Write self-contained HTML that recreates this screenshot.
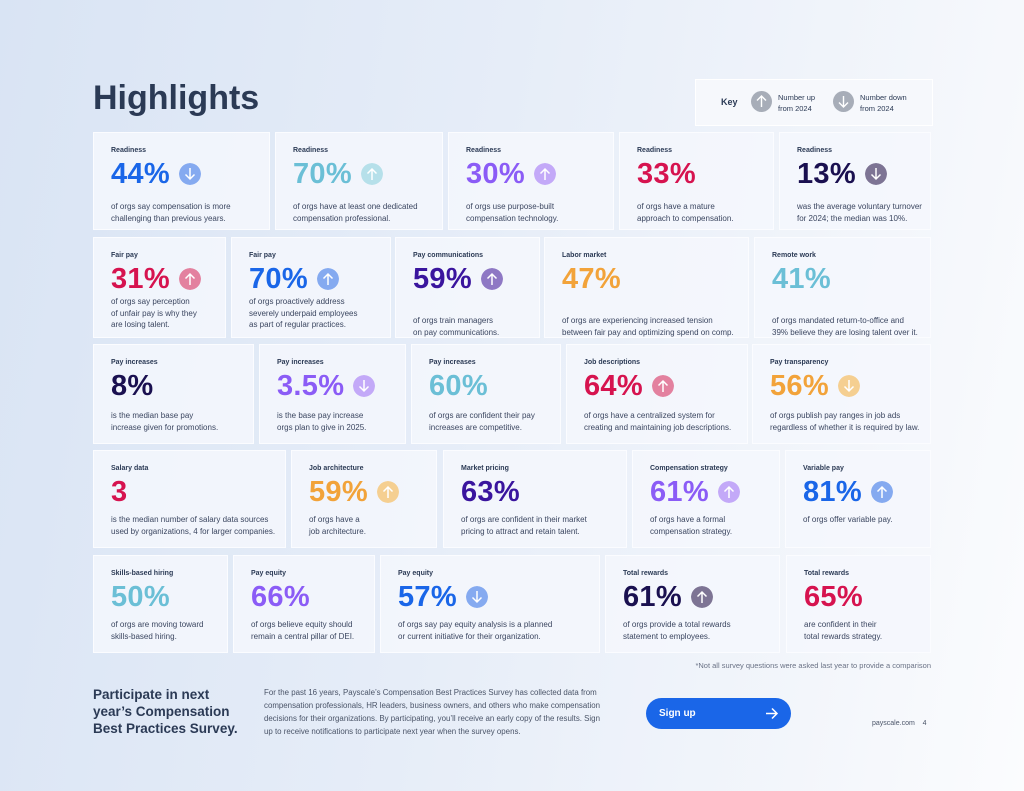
<!DOCTYPE html>
<html><head><meta charset="utf-8"><style>
body{margin:0;width:1024px;height:791px;overflow:hidden;font-family:"Liberation Sans",sans-serif;background:linear-gradient(100deg,#d9e4f4 0%,#e6edf8 45%,#f3f6fb 80%,#fbfcfe 100%);position:relative;color:#2b3a55}
.card{position:absolute;background:rgba(244,247,253,0.85);border:1.5px solid #fbfcff;box-sizing:border-box}
.lbl{position:absolute;left:17px;font-size:7px;font-weight:bold;color:#2b3a55}
.num{position:absolute;left:17px;font-size:29px;font-weight:bold;line-height:30px;letter-spacing:0.3px;white-space:nowrap;display:flex;align-items:center}
.ic{margin-left:9px;width:22px;height:22px;border-radius:50%;display:inline-block}
.desc{position:absolute;left:17px;font-size:8px;line-height:11.5px;color:#3b4660;white-space:nowrap}
</style></head><body>
<div style="position:absolute;left:93px;top:79px;font-size:34px;font-weight:bold;color:#2b3a55">Highlights</div>
<div style="position:absolute;left:695px;top:79px;width:236px;height:45px;background:#f6f8fc;border:1px solid #fff">
 <div style="position:absolute;left:25px;top:17px;font-size:9px;font-weight:bold">Key</div>
 <svg style="position:absolute;left:55px;top:11px" width="21" height="21"><circle cx="10.5" cy="10.5" r="10.5" fill="#a7adb8"/><path d="M10.5 16V5M6 9.5l4.5-4.5 4.5 4.5" stroke="#fff" stroke-width="1.4" fill="none"/></svg>
 <div style="position:absolute;left:82px;top:12px;font-size:7.5px;line-height:11px">Number up<br>from 2024</div>
 <svg style="position:absolute;left:137px;top:11px" width="21" height="21"><circle cx="10.5" cy="10.5" r="10.5" fill="#a7adb8"/><path d="M10.5 5V16M6 11.5l4.5 4.5 4.5-4.5" stroke="#fff" stroke-width="1.4" fill="none"/></svg>
 <div style="position:absolute;left:164px;top:12px;font-size:7.5px;line-height:11px">Number down<br>from 2024</div>
</div>
<div id="cards"></div>
<div style="position:absolute;right:93px;top:661px;font-size:7.5px;color:#6a7285">*Not all survey questions were asked last year to provide a comparison</div>
<div style="position:absolute;left:93px;top:686px;font-size:13.5px;font-weight:bold;line-height:17px;color:#2b3a55">Participate in next<br>year’s Compensation<br>Best Practices Survey.</div>
<div style="position:absolute;left:264px;top:686px;font-size:7.9px;line-height:13px;color:#4a5468;white-space:nowrap">For the past 16 years, Payscale’s Compensation Best Practices Survey has collected data from<br>compensation professionals, HR leaders, business owners, and others who make compensation<br>decisions for their organizations. By participating, you’ll receive an early copy of the results. Sign<br>up to receive notifications to participate next year when the survey opens.</div>
<div style="position:absolute;left:646px;top:698px;width:145px;height:31px;border-radius:16px;background:#1a66e8;color:#fff;font-size:10px;font-weight:bold"><span style="position:absolute;left:13px;top:10px">Sign up</span><svg style="position:absolute;left:119px;top:9px" width="14" height="13"><path d="M1 6.5H12M7 1.5l5 5-5 5" stroke="#fff" stroke-width="1.5" fill="none"/></svg></div>
<div style="position:absolute;left:872px;top:720px;font-size:7px;color:#4a5468">payscale.com &nbsp;&nbsp; 4</div>
<script>
const BLUE='#1a66e8',TEAL='#6bbfd6',PUR='#8b5cf6',RED='#d6134f',NAVY='#1a1050',ORG='#f2a33a',IND='#3a159e';
const ICB={[BLUE]:'#85aaf0',[TEAL]:'#b6e0ea',[PUR]:'#c3a9f8',[RED]:'#e3819f',[NAVY]:'#7d7494',[ORG]:'#f5cf91',[IND]:'#8e78c4'};
// [x0,x1,y0,y1,label,value,color,arrow,desc,descOffset]
const rows=[
[93,270,132,230,'Readiness','44%',BLUE,'d','of orgs say compensation is more<br>challenging than previous years.',68],
[275,443,132,230,'Readiness','70%',TEAL,'u','of orgs have at least one dedicated<br>compensation professional.',68],
[448,614,132,230,'Readiness','30%',PUR,'u','of orgs use purpose-built<br>compensation technology.',68],
[619,774,132,230,'Readiness','33%',RED,'','of orgs have a mature<br>approach to compensation.',68],
[779,931,132,230,'Readiness','13%',NAVY,'d','was the average voluntary turnover<br>for 2024; the median was 10%.',68],
[93,226,237,338,'Fair pay','31%',RED,'u','of orgs say perception<br>of unfair pay is why they<br>are losing talent.',58],
[231,391,237,338,'Fair pay','70%',BLUE,'u','of orgs proactively address<br>severely underpaid employees<br>as part of regular practices.',58],
[395,540,237,338,'Pay communications','59%',IND,'u','of orgs train managers<br>on pay communications.',77],
[544,749,237,338,'Labor market','47%',ORG,'','of orgs are experiencing increased tension<br>between fair pay and optimizing spend on comp.',77],
[754,931,237,338,'Remote work','41%',TEAL,'','of orgs mandated return-to-office and<br>39% believe they are losing talent over it.',77],
[93,254,344,444,'Pay increases','8%',NAVY,'','is the median base pay<br>increase given for promotions.',65],
[259,406,344,444,'Pay increases','3.5%',PUR,'d','is the base pay increase<br>orgs plan to give in 2025.',65],
[411,561,344,444,'Pay increases','60%',TEAL,'','of orgs are confident their pay<br>increases are competitive.',65],
[566,748,344,444,'Job descriptions','64%',RED,'u','of orgs have a centralized system for<br>creating and maintaining job descriptions.',65],
[752,931,344,444,'Pay transparency','56%',ORG,'d','of orgs publish pay ranges in job ads<br>regardless of whether it is required by law.',65],
[93,286,450,548,'Salary data','3',RED,'','is the median number of salary data sources<br>used by organizations, 4 for larger companies.',63],
[291,437,450,548,'Job architecture','59%',ORG,'u','of orgs have a<br>job architecture.',63],
[443,627,450,548,'Market pricing','63%',IND,'','of orgs are confident in their market<br>pricing to attract and retain talent.',63],
[632,780,450,548,'Compensation strategy','61%',PUR,'u','of orgs have a formal<br>compensation strategy.',63],
[785,931,450,548,'Variable pay','81%',BLUE,'u','of orgs offer variable pay.',63],
[93,228,555,653,'Skills-based hiring','50%',TEAL,'','of orgs are moving toward<br>skills-based hiring.',63],
[233,375,555,653,'Pay equity','66%',PUR,'','of orgs believe equity should<br>remain a central pillar of DEI.',63],
[380,600,555,653,'Pay equity','57%',BLUE,'d','of orgs say pay equity analysis is a planned<br>or current initiative for their organization.',63],
[605,780,555,653,'Total rewards','61%',NAVY,'u','of orgs provide a total rewards<br>statement to employees.',63],
[786,931,555,653,'Total rewards','65%',RED,'','are confident in their<br>total rewards strategy.',63]];
const host=document.getElementById('cards');
rows.forEach((r,i)=>{
 const c=document.createElement('div');
 c.className='card';
 
 
 c.style.cssText=`left:${r[0]}px;top:${r[2]}px;width:${r[1]-r[0]}px;height:${r[3]-r[2]}px`;
 const arrow=r[7]==='u'?'<path d="M11 17V6M6.5 10.5L11 6l4.5 4.5" stroke="#fff" stroke-width="1.5" fill="none"/>':'<path d="M11 5V16M6.5 11.5L11 16l4.5-4.5" stroke="#fff" stroke-width="1.5" fill="none"/>';
 const ic=r[7]?`<svg class="ic" width="22" height="22"><circle cx="11" cy="11" r="11" fill="${ICB[r[6]]}"/>${arrow}</svg>`:'';
 c.innerHTML=`<div class="lbl" style="top:14px">${r[4]}</div><div class="num" style="top:26px;color:${r[6]}">${r[5]}${ic}</div><div class="desc" style="top:${r[9]}px">${r[8]}</div>`;
 host.appendChild(c);
});
</script>
</body></html>
